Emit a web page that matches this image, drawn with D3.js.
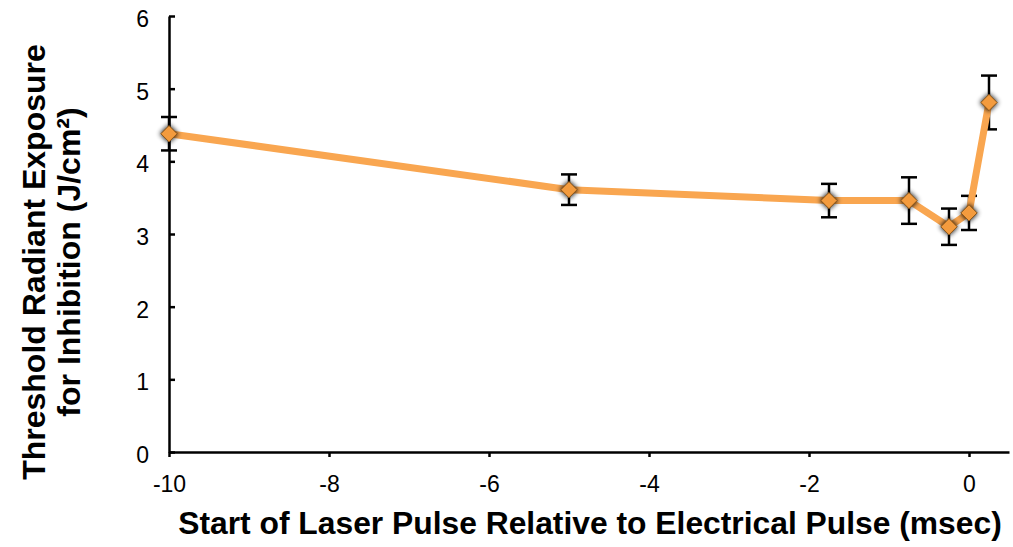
<!DOCTYPE html>
<html>
<head>
<meta charset="utf-8">
<script src="https://cdn.jsdelivr.net/npm/d3@7"></script>
<style>
  html, body { margin: 0; padding: 0; background: #fff; }
  svg { display: block; font-family: "Liberation Sans", Arial, Helvetica, sans-serif; }
</style>
</head>
<body>
<svg id="chart" width="1013" height="547"></svg>
<script>
// Laser pulse onset (ms, relative to electrical pulse)
const offsets = [-10, -5, -1.75, -0.75, -0.25, 0, 0.25];
// Threshold radiant exposure (J/cm²)
const thresholds = [4.38, 3.61, 3.46, 3.46, 3.10, 3.29, 4.81];
// Error bar half-widths
const errors = [0.23, 0.21, 0.23, 0.32, 0.25, 0.235, 0.37];

const xTicks = [-10, -8, -6, -4, -2, 0];
const yTicks = [0, 1, 2, 3, 4, 5, 6];

const xTitle = "Start of Laser Pulse Relative to Electrical Pulse (msec)";
const yTitleLines = ["Threshold Radiant Exposure", "for Inhibition (J/cm²)"];

const svg = d3.select("#chart");

const x = d3.scaleLinear().domain([-10, 0.5]).range([169, 1009]);
const y = d3.scaleLinear().domain([0, 6]).range([452, 16]);

const data = offsets.map((o, i) => ({ x: o, y: thresholds[i], e: errors[i] }));

// plain hyphen for negative numbers
const fmt = d => String(d);

// soft shadow for the markers
const defs = svg.append("defs");
const f = defs.append("filter").attr("id", "glow")
  .attr("x", "-60%").attr("y", "-60%").attr("width", "220%").attr("height", "220%");
f.append("feGaussianBlur").attr("stdDeviation", 2.4);

// axes
const xAxis = svg.append("g")
  .attr("transform", `translate(0,${y(0)})`)
  .call(d3.axisBottom(x).tickValues(xTicks).tickSize(5).tickPadding(19).tickSizeOuter(0)
    .tickFormat(fmt));
const yAxis = svg.append("g")
  .attr("transform", `translate(${x(-10)},0)`)
  .call(d3.axisLeft(y).tickValues(yTicks).tickSize(-6).tickPadding(20).tickSizeOuter(0)
    .tickFormat(fmt));

[xAxis, yAxis].forEach(g => {
  g.select(".domain").attr("stroke", "#000").attr("stroke-width", 2.5);
  g.selectAll(".tick line").attr("stroke", "#000").attr("stroke-width", 2.5);
  g.selectAll(".tick text").attr("fill", "#000").attr("font-size", 23)
    .attr("font-family", "Liberation Sans, Arial, sans-serif");
});
yAxis.selectAll(".tick text").attr("dy", "0.45em");

// error bars
const eb = svg.append("g").attr("stroke", "#000").attr("stroke-width", 2.5);
data.forEach(d => {
  const cx = x(d.x), y1 = y(d.y + d.e), y2 = y(d.y - d.e);
  eb.append("line").attr("x1", cx).attr("x2", cx).attr("y1", y1).attr("y2", y2);
  eb.append("line").attr("x1", cx - 8).attr("x2", cx + 8).attr("y1", y1).attr("y2", y1);
  eb.append("line").attr("x1", cx - 8).attr("x2", cx + 8).attr("y1", y2).attr("y2", y2);
});

// connecting line
svg.append("path")
  .datum(data)
  .attr("fill", "none")
  .attr("stroke", "#f9a650")
  .attr("stroke-width", 7)
  .attr("stroke-linejoin", "round")
  .attr("d", d3.line().x(d => x(d.x)).y(d => y(d.y)));

// diamond markers
const diamond = d3.symbol().type(d3.symbolDiamond2).size(220)();
const m = svg.append("g");
m.selectAll("path.shadow").data(data).join("path")
  .attr("class", "shadow")
  .attr("d", diamond)
  .attr("transform", d => `translate(${x(d.x)},${y(d.y)})`)
  .attr("fill", "#000").attr("opacity", 0.9)
  .attr("filter", "url(#glow)");
m.selectAll("path.mark").data(data).join("path")
  .attr("class", "mark")
  .attr("d", d3.symbol().type(d3.symbolDiamond2).size(170)())
  .attr("transform", d => `translate(${x(d.x)},${y(d.y)})`)
  .attr("fill", "#f39b3e")
  .attr("stroke", "#8a5518").attr("stroke-width", 1);

// axis titles
svg.append("text")
  .attr("x", 590).attr("y", 534)
  .attr("text-anchor", "middle")
  .attr("font-weight", "bold").attr("font-size", 31.8)
  .attr("fill", "#000")
  .text(xTitle);

const yt = svg.append("text")
  .attr("transform", "translate(0,262) rotate(-90)")
  .attr("text-anchor", "middle")
  .attr("font-weight", "bold").attr("font-size", 32)
  .attr("fill", "#000");
yt.selectAll("tspan").data(yTitleLines).join("tspan")
  .attr("x", 0)
  .attr("y", (d, i) => 45 + i * 35)
  .text(d => d);
</script>
</body>
</html>
